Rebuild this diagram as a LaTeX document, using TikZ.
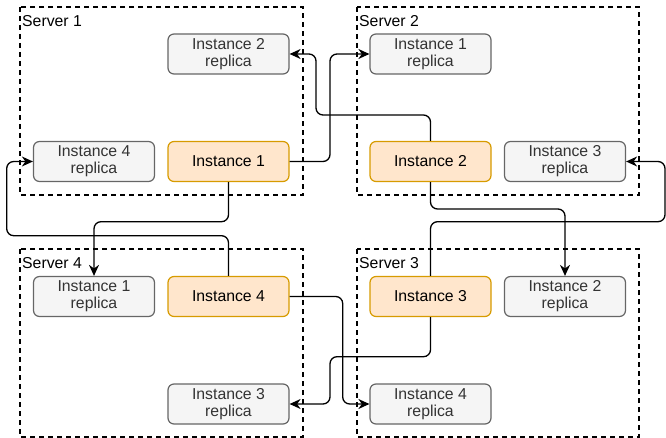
\documentclass[tikz,border=0pt]{standalone}
\usepackage{fontspec}
\setmainfont{Liberation Sans}
\usetikzlibrary{arrows.meta}
\definecolor{orfill}{HTML}{FFE6CC}
\definecolor{orline}{HTML}{D79B00}
\definecolor{grfill}{HTML}{F5F5F5}
\definecolor{grline}{HTML}{666666}
\definecolor{grtext}{HTML}{333333}
\begin{document}
\begin{tikzpicture}[x=1pt,y=-1pt,
 box/.style={draw, rounded corners=6pt, minimum width=121pt, minimum height=40pt, inner sep=0pt, align=center, line width=1.2pt, font=\fontsize{15.8}{17}\selectfont},
 inst/.style={box, fill=orfill, draw=orline, text=black},
 repl/.style={box, fill=grfill, draw=grline, text=grtext},
 server/.style={draw, dash pattern=on 5pt off 4pt, line width=1.2pt},
 slabel/.style={anchor=base west, inner sep=0pt, font=\fontsize{15.8}{17}\selectfont},
 conn/.style={line width=1.3pt, rounded corners=7pt, -{Stealth[length=11pt,width=10pt,inset=3.5pt]}}
]
\useasboundingbox (0,0) rectangle (666,438);

% servers
\draw[server] (20,7) rectangle (303,195);
\draw[server] (357,7) rectangle (639,195);
\draw[server] (20,249) rectangle (303,437);
\draw[server] (357,249) rectangle (639,437);
\node[slabel] (s1) at (22,26.5) {Server 1};
\node[slabel] (s2) at (359,26.5) {Server 2};
\node[slabel] (s4) at (22,269) {Server 4};
\node[slabel] (s3) at (359,269) {Server 3};

% server 1
\node[repl] (r2a) at (228.5,54) {Instance 2\\replica};
\node[repl] (r4a) at (94,161.5) {Instance 4\\replica};
\node[inst] (i1) at (228.5,161.5) {Instance 1};
% server 2
\node[repl] (r1a) at (430.5,54) {Instance 1\\replica};
\node[inst] (i2) at (430.5,161.5) {Instance 2};
\node[repl] (r3a) at (565,161.5) {Instance 3\\replica};
% server 4
\node[repl] (r1b) at (94,296.5) {Instance 1\\replica};
\node[inst] (i4) at (228.5,296.5) {Instance 4};
\node[repl] (r3b) at (228.5,404) {Instance 3\\replica};
% server 3
\node[inst] (i3) at (430.5,296.5) {Instance 3};
\node[repl] (r2b) at (565,296.5) {Instance 2\\replica};
\node[repl] (r4b) at (430.5,404) {Instance 4\\replica};

% connectors
\draw[conn] (i1.east) -- (330,161.5) -- (330,54) -- (r1a.west);
\draw[conn] (i1.south) -- (228.5,221.7) -- (94,221.7) -- (r1b.north);
\draw[conn] (i2.north) -- (430.5,115) -- (316,115) -- (316,54) -- (r2a.east);
\draw[conn] (i2.south) -- (430.5,209) -- (565,209) -- (r2b.north);
\draw[conn] (i3.north) -- (430.5,221.7) -- (665,221.7) -- (665,161.5) -- (r3a.east);
\draw[conn] (i3.south) -- (430.5,356.7) -- (330,356.7) -- (330,404) -- (r3b.east);
\draw[conn] (i4.north) -- (228.5,235.7) -- (6.7,235.7) -- (6.7,161.5) -- (r4a.west);
\draw[conn] (i4.east) -- (342.7,296.5) -- (342.7,404) -- (r4b.west);
\end{tikzpicture}
\end{document}
